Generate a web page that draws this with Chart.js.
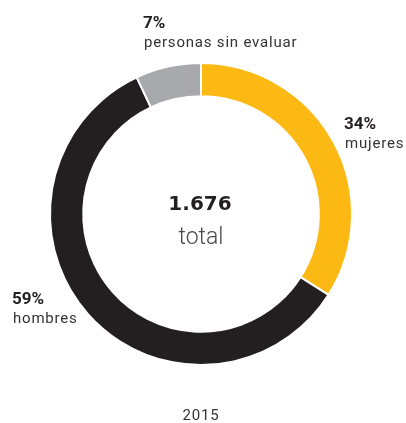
<!DOCTYPE html>
<html>
<head>
<meta charset="utf-8">
<script src="https://cdn.jsdelivr.net/npm/chart.js@4"></script>
<style>
  html, body { margin: 0; padding: 0; background: #fff; }
  #wrap { width: 406px; height: 423px; }
</style>
</head>
<body>
<div id="wrap"><canvas id="donut" width="406" height="423"></canvas></div>
<script>
// Datos del gráfico
const categorias = ['mujeres', 'hombres', 'personas sin evaluar'];
const porcentajes = [34, 59, 7];
const colores = ['#FDB913', '#231F20', '#A7A9AC'];
const totalPersonas = '1.676';
const etiquetaTotal = 'total';
const anio = '2015';

// Posición de cada etiqueta (texto fuera del anillo)
const posEtiquetas = [
    { x: 344, y: 129 },
    { x: 12, y: 304 },
    { x: 143, y: 28 }
];

// Plugin para dibujar textos del centro, etiquetas y año
const textosPlugin = {
    id: 'textos',
    afterDraw(chart) {
        const ctx = chart.ctx;
        const meta = chart.getDatasetMeta(0);
        const arc = meta.data[0];
        const cx = arc.x, cy = arc.y;
        ctx.save();
        ctx.textBaseline = 'alphabetic';

        // total en el centro
        ctx.textAlign = 'center';
        ctx.fillStyle = '#231F20';
        ctx.font = 'bold 20px "DejaVu Sans"';
        ctx.fillText(totalPersonas, cx - 1, cy - 4);
        ctx.fillStyle = '#4a4a4a';
        ctx.font = '300 23px Roboto';
        ctx.fillText(etiquetaTotal, cx, cy + 30);

        // etiquetas de cada segmento
        ctx.textAlign = 'left';
        categorias.forEach((cat, i) => {
            const p = posEtiquetas[i];
            ctx.fillStyle = '#231F20';
            ctx.font = 'bold 17px Roboto';
            ctx.letterSpacing = '0px';
            ctx.fillText(porcentajes[i] + '%', p.x, p.y);
            ctx.fillStyle = '#333';
            ctx.font = '15px Roboto';
            ctx.letterSpacing = '0.8px';
            ctx.fillText(cat, p.x + 1, p.y + 19);
        });

        // año abajo
        ctx.textAlign = 'center';
        ctx.fillStyle = '#333';
        ctx.font = '15px Roboto';
        ctx.letterSpacing = '0.8px';
        ctx.fillText(anio, cx, 420);
        ctx.restore();
    }
};

const ctx = document.getElementById('donut').getContext('2d');
const donut = new Chart(ctx, {
    type: 'doughnut',
    data: {
        labels: categorias,
        datasets: [{
            data: porcentajes,
            backgroundColor: colores,
            borderColor: '#ffffff',
            borderWidth: 2
        }]
    },
    options: {
        responsive: false,
        animation: false,
        cutout: '78%',
        layout: {
            padding: { left: 49, right: 53, top: 61, bottom: 56 }
        },
        plugins: {
            legend: { display: false },
            tooltip: { enabled: false }
        }
    },
    plugins: [textosPlugin]
});
</script>
</body>
</html>
